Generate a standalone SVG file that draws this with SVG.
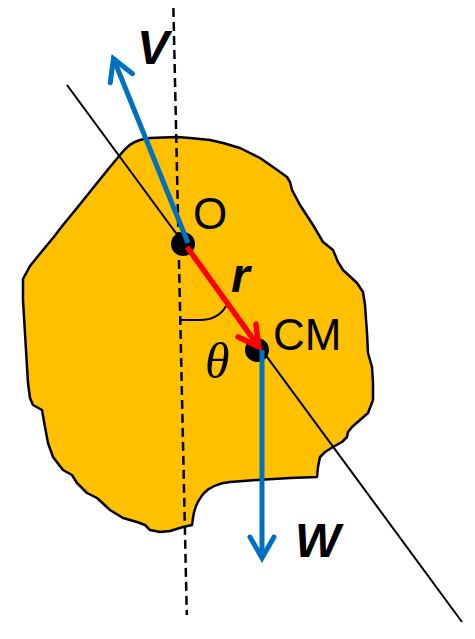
<svg xmlns="http://www.w3.org/2000/svg" width="475" height="639" viewBox="0 0 475 639">
<style>
.body{fill:#FFC000;stroke:#000;stroke-width:2.5;stroke-linejoin:round}
.dash{fill:none;stroke:#000;stroke-width:2.5;stroke-dasharray:9,5}
.thin{fill:none;stroke:#000;stroke-width:2}
.dot{fill:#000}
.blue{fill:none;stroke:#0070C0;stroke-width:5}
.red{fill:none;stroke:#FF0000;stroke-width:5.5}
.lbl{font-family:"Liberation Sans",Arial,sans-serif;fill:#000}
.vec{font-weight:bold;font-style:italic;font-size:48px}
.pt{font-size:44px}
.ang{font-family:"Liberation Serif","Times New Roman",serif;font-style:italic;font-size:50px;fill:#000}
</style>
<defs>
<marker id="headBlue" markerUnits="userSpaceOnUse" viewBox="-30 -20 40 40" markerWidth="40" markerHeight="40" refX="0" refY="0" orient="auto" overflow="visible">
<path d="M-21,-12 L0,0 L-21,12" fill="none" stroke="#0070C0" stroke-width="5" stroke-linecap="round" stroke-linejoin="miter"/>
</marker>
<marker id="headRed" markerUnits="userSpaceOnUse" viewBox="-30 -20 40 40" markerWidth="40" markerHeight="40" refX="0" refY="0" orient="auto" overflow="visible">
<path d="M-20,-11 L0,0 L-20,11" fill="none" stroke="#FF0000" stroke-width="5.5" stroke-linecap="round" stroke-linejoin="miter"/>
</marker>
</defs>

<g id="body">
<path class="body" d="M23,279 L30,266 L43,250 L53,238 L63,225 L77,208 L93,188 L110,167 L120,155 C126,147 132,142 140,140 L150,138 L177,137 L190,138 L210,140 L223,143 L240,148 L250,153 L260,158 L273,167 L287,177 L290,182 L292,190 L300,205 L313,225 L323,242 L333,250 L338,262 L343,270 L357,283 L363,292 L365,305 L367,333 L368,353 L372,367 L373,383 L373,400 L368,413 L360,420 L352,427 L348,432 L347,437 L342,442 L333,447 L325,452 L320,457 L318,467 L317,477 L290,478 L257,480 L230,482 C220,483 210,487 204,493 C198,500 194,510 193,518 L192,525 L183,527 L170,531 L160,532 L150,530 L145,525 L137,522 L123,518 L110,510 L97,498 L87,493 L77,483 L72,475 L63,470 L53,457 L48,443 L45,427 L42,410 L33,405 L30,398 L28,383 L26,350 L23,300 Z"/>
</g>

<g id="connectors">
<line id="vertical" class="dash" x1="173.4" y1="8" x2="186.8" y2="615"/>
<line id="axis" class="thin" x1="67" y1="85" x2="462" y2="622"/>
<path id="theta-arc" class="thin" d="M181,320 L200,320 C213,320 221,315 226,306"/>
</g>

<g id="O">
<circle class="dot" cx="183" cy="244" r="12"/>
<text class="lbl pt" x="193" y="229">O</text>
</g>

<g id="CM">
<circle class="dot" cx="257" cy="350" r="12"/>
<text class="lbl pt" x="273" y="350">CM</text>
</g>

<g id="vectors">
<line id="V" class="blue" x1="188" y1="243" x2="113.5" y2="58.7" marker-end="url(#headBlue)"/>
<line id="r" class="red" x1="187" y1="247" x2="258.7" y2="346.8" marker-end="url(#headRed)"/>
<line id="W" class="blue" x1="262" y1="350" x2="262" y2="558" marker-end="url(#headBlue)"/>
</g>

<g id="labels">
<text class="lbl vec" x="137" y="64">V</text>
<text class="lbl vec" x="231" y="292">r</text>
<text class="ang" x="205" y="378">θ</text>
<text class="lbl vec" x="295" y="557">W</text>
</g>
</svg>
